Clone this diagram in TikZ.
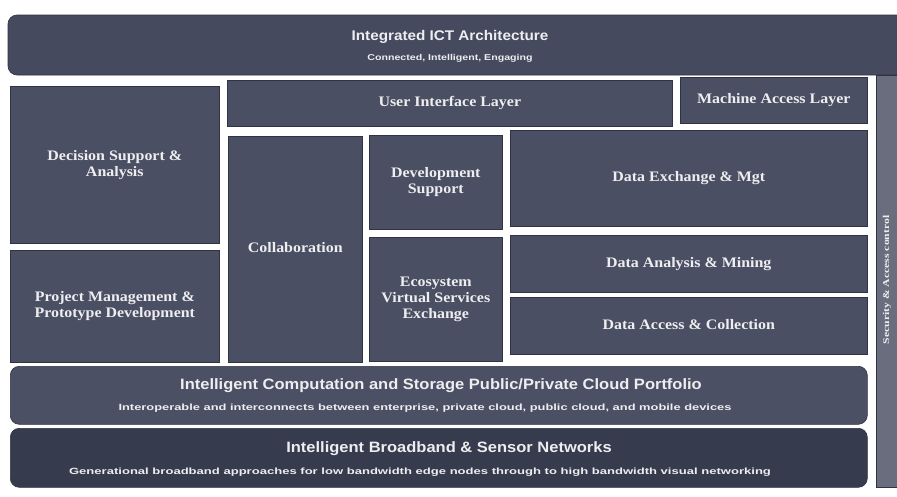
\documentclass[tikz,border=0pt]{standalone}
\usepackage{fontspec}
\setmainfont{Liberation Serif}
\newfontfamily\barfont{Liberation Sans}
\usepackage{graphicx}
\definecolor{tilefill}{HTML}{4A4F63}
\definecolor{tileedge}{HTML}{2F3342}
\definecolor{topfill}{HTML}{454A5E}
\definecolor{cloudfill}{HTML}{4B5064}
\definecolor{bbfill}{HTML}{363B4D}
\definecolor{secfill}{HTML}{6A6D7D}
\definecolor{txtcol}{HTML}{EEEEF0}
\newcommand\sx[2][1.1]{\scalebox{#1}[1]{\begin{tabular}{@{}c@{}}#2\end{tabular}}}
\begin{document}
\begin{tikzpicture}[x=1pt,y=-1pt,
  tile/.style={draw=tileedge, fill=tilefill, line width=0.6pt, anchor=north west,
    inner sep=0pt, text=txtcol, font=\bfseries\fontsize{14.5}{16}\selectfont},
  bar/.style={draw=tileedge, line width=0.6pt, rounded corners=9pt, anchor=north west, inner sep=0pt},
  bartitle/.style={text=txtcol, inner sep=0pt, font=\barfont\bfseries\fontsize{14}{16}\selectfont},
  bigtitle/.style={text=txtcol, inner sep=0pt, font=\barfont\bfseries\fontsize{15}{17}\selectfont},
  barsub/.style={text=txtcol, inner sep=0pt, font=\barfont\bfseries\fontsize{8.5}{10}\selectfont},
  bigsub/.style={text=txtcol, inner sep=0pt, font=\barfont\bfseries\fontsize{9}{10}\selectfont}]
\useasboundingbox[fill=white] (0,0) rectangle (897,496);

% top bar
\path[fill=topfill, draw=tileedge, line width=0.6pt, rounded corners=9pt]
  (898,15) -- (8,15) -- (8,75) -- (898,75);
\node[bartitle] (topT) at (450,37) {\scalebox{1.09}[1]{Integrated ICT Architecture}};
\node[barsub] (topS) at (450,58) {\scalebox{1.25}[1]{Connected, Intelligent, Engaging}};

% left column
\node[tile, minimum width=209, minimum height=157] (dec) at (10,86) {\sx{Decision Support \&\\Analysis}};
\node[tile, minimum width=209, minimum height=112] (pm) at (10,250) {\sx{Project Management \&\\Prototype Development}};

% top layers
\node[tile, minimum width=445, minimum height=46] (ui) at (227,80) {\sx{User Interface Layer}};
\node[tile, minimum width=187, minimum height=46] (mal) at (680,77) {\sx{Machine Access Layer}};

% middle
\node[tile, minimum width=134, minimum height=226] (col) at (228,136) {\sx{Collaboration}};
\node[tile, minimum width=133, minimum height=94] (dev) at (369,135) {\sx{Development\\Support}};
\node[tile, minimum width=133, minimum height=124] (eco) at (369,237) {\sx{Ecosystem\\Virtual Services\\Exchange}};

% data column
\node[tile, minimum width=357, minimum height=96] (dx) at (510,130) {\sx{Data Exchange \& Mgt}};
\node[tile, minimum width=357, minimum height=57] (da) at (510,235) {\sx{Data Analysis \& Mining}};
\node[tile, minimum width=357, minimum height=57] (dac) at (510,297) {\sx{Data Access \& Collection}};

% security band
\path[fill=secfill, draw=tileedge, line width=0.6pt] (898,75) -- (876,75) -- (876,487) -- (898,487);
\node[text=txtcol, inner sep=0pt, rotate=90, font=\bfseries\fontsize{9}{10}\selectfont] (sec) at (887,280)
  {\scalebox{1.3}[1]{Security \& Access control}};

% cloud bar
\node[bar, fill=cloudfill, minimum width=857, minimum height=58] (cloud) at (10,366) {};
\node[bigtitle] (cloudT) at (441,386) {\scalebox{1.1}[1]{Intelligent Computation and Storage Public/Private Cloud Portfolio}};
\node[bigsub] (cloudS) at (425,408) {\scalebox{1.43}[1]{Interoperable and interconnects between enterprise, private cloud, public cloud, and mobile devices}};

% broadband bar
\node[bar, fill=bbfill, minimum width=857, minimum height=59] (bb) at (10,428) {};
\node[bigtitle] (bbT) at (449,449) {\scalebox{1.1}[1]{Intelligent Broadband \& Sensor Networks}};
\node[bigsub] (bbS) at (420,472) {\scalebox{1.45}[1]{Generational broadband approaches for low bandwidth edge nodes through to high bandwidth visual networking}};
\end{tikzpicture}
\end{document}
